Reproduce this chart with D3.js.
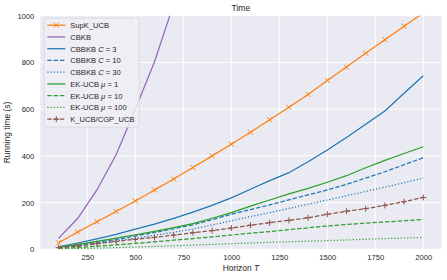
<!DOCTYPE html>
<html>
<head>
<meta charset="utf-8">
<script src="https://cdn.jsdelivr.net/npm/d3@7"></script>
<style>
  body { margin: 0; background: #fff; }
  text { font-family: "Liberation Sans", Arial, sans-serif; fill: #262626; }
</style>
</head>
<body>
<script>
const horizons = [100, 200, 300, 400, 500, 600, 700, 800, 900, 1000,
                  1100, 1200, 1300, 1400, 1500, 1600, 1700, 1800, 1900, 2000];

const supK = [28, 74, 118, 162, 207, 254, 301, 350, 400, 450,
              501, 555, 608, 663, 723, 780, 839, 897, 955, 1012];
const cbkb = [47, 133, 254, 405, 600, 803, 1050];
const cbbkb3 = [10, 27, 45, 64, 86, 108, 132, 159, 188, 220,
                257, 294, 328, 375, 425, 479, 535, 592, 668, 743];
const cbbkb10 = [7, 18, 30, 42, 57, 72, 88, 105, 127, 150,
                 170, 190, 212, 233, 254, 278, 305, 332, 362, 392];
const cbbkb30 = [6, 16, 26, 37, 48, 60, 73, 87, 104, 122,
                 140, 157, 175, 193, 211, 229, 248, 266, 285, 305];
const ek1 = [8, 21, 34, 48, 62, 77, 93, 110, 133, 157,
             185, 211, 237, 261, 287, 315, 349, 381, 410, 439];
const ek10 = [4, 8, 13, 19, 25, 32, 39, 46, 53, 61,
              69, 76, 84, 92, 100, 106, 112, 117, 122, 128];
const ek100 = [1, 3, 5, 7, 10, 12, 15, 18, 21, 24,
               27, 30, 32, 35, 37, 40, 43, 46, 48, 51];
const kucb = [7, 14, 24, 33, 43, 51, 61, 71, 80, 91,
              103, 114, 124, 135, 150, 163, 174, 188, 204, 222];

const xTicks = [250, 500, 750, 1000, 1250, 1500, 1750, 2000];
const yTicks = [0, 200, 400, 600, 800, 1000];

// name pieces: [text, italic?]
let series = [
  {label: [["SupK_UCB", false]], values: supK, color: "#ff7f0e", dash: null, marker: "x"},
  {label: [["CBKB", false]], values: cbkb, color: "#9467bd", dash: null, marker: null},
  {label: [["CBBKB ", false], ["C", true], [" = 3", false]], values: cbbkb3, color: "#1f77b4", dash: null, marker: null},
  {label: [["CBBKB ", false], ["C", true], [" = 10", false]], values: cbbkb10, color: "#1f77b4", dash: "4.4,1.9", marker: null},
  {label: [["CBBKB ", false], ["C", true], [" = 30", false]], values: cbbkb30, color: "#1f77b4", dash: "1.2,2", marker: null},
  {label: [["EK-UCB ", false], ["\u03bc", true], [" = 1", false]], values: ek1, color: "#2ca02c", dash: null, marker: null},
  {label: [["EK-UCB ", false], ["\u03bc", true], [" = 10", false]], values: ek10, color: "#2ca02c", dash: "4.4,1.9", marker: null},
  {label: [["EK-UCB ", false], ["\u03bc", true], [" = 100", false]], values: ek100, color: "#2ca02c", dash: "1.2,2", marker: null},
  {label: [["K_UCB/CGP_UCB", false]], values: kucb, color: "#8c564b", dash: "4.4,1.9", marker: "+"}
];

const markerPath = {
  "x": "M-2.5,-2.5L2.5,2.5M-2.5,2.5L2.5,-2.5",
  "+": "M-3,0L3,0M0,-3L0,3"
};

let WIDTH = 447,
    HEIGHT = 280;

let margin = {top: 15.7, right: 5.5, bottom: 30.7, left: 40.3};
let plotW = WIDTH - margin.left - margin.right,
    plotH = HEIGHT - margin.top - margin.bottom;

let svg = d3.select("body").append("svg")
  .attr("width", WIDTH)
  .attr("height", HEIGHT);

let x = d3.scaleLinear().domain([5, 2095]).range([0, plotW]);
let y = d3.scaleLinear().domain([0, 1000]).range([plotH, 0]);

let g = svg.append("g")
  .attr("transform", "translate(" + margin.left + "," + margin.top + ")");

g.append("rect")
  .attr("width", plotW)
  .attr("height", plotH)
  .attr("fill", "#eaeaf2");

g.append("clipPath").attr("id", "clip")
  .append("rect").attr("width", plotW).attr("height", plotH);

// grid
g.selectAll(".vgrid").data(xTicks).enter().append("line")
  .attr("x1", d => x(d)).attr("x2", d => x(d))
  .attr("y1", 0).attr("y2", plotH)
  .attr("stroke", "#fff").attr("stroke-width", 1);

g.selectAll(".hgrid").data(yTicks).enter().append("line")
  .attr("y1", d => y(d)).attr("y2", d => y(d))
  .attr("x1", 0).attr("x2", plotW)
  .attr("stroke", "#fff").attr("stroke-width", 1);

// axes (labels only, seaborn style)
let xAxis = g.append("g")
  .attr("transform", "translate(0," + plotH + ")")
  .call(d3.axisBottom(x).tickValues(xTicks).tickFormat(d3.format("d")).tickSize(0).tickPadding(5));
let yAxis = g.append("g")
  .call(d3.axisLeft(y).tickValues(yTicks).tickFormat(d3.format("d")).tickSize(0).tickPadding(6));

[xAxis, yAxis].forEach(a => {
  a.select(".domain").remove();
  a.selectAll("text")
    .style("font-family", "'Liberation Sans', Arial, sans-serif")
    .style("font-size", "7.6px")
    .attr("fill", "#262626");
});

// lines
let lineGen = d3.line()
  .x((d, i) => x(horizons[i]))
  .y(d => y(d));

let plot = g.append("g").attr("clip-path", "url(#clip)");

series.forEach(s => {
  plot.append("path")
    .datum(s.values)
    .attr("d", lineGen)
    .attr("fill", "none")
    .attr("stroke", s.color)
    .attr("stroke-width", 1.25)
    .attr("stroke-dasharray", s.dash);

  if (s.marker) {
    plot.selectAll(null)
      .data(s.values)
      .enter().append("path")
      .attr("transform", (d, i) => "translate(" + x(horizons[i]) + "," + y(d) + ")")
      .attr("d", markerPath[s.marker])
      .attr("stroke", s.color)
      .attr("stroke-width", 1)
      .attr("fill", "none");
  }
});

// title and axis labels
svg.append("text")
  .attr("x", margin.left + plotW / 2)
  .attr("y", 11)
  .attr("text-anchor", "middle")
  .style("font-size", "8.6px")
  .text("Time");

let xl = svg.append("text")
  .attr("x", margin.left + plotW / 2)
  .attr("y", 271)
  .attr("text-anchor", "middle")
  .style("font-size", "8.4px");
xl.append("tspan").text("Horizon ");
xl.append("tspan").style("font-style", "italic").text("T");

svg.append("text")
  .attr("transform", "translate(10," + (margin.top + plotH / 2) + ") rotate(-90)")
  .attr("text-anchor", "middle")
  .style("font-size", "8.4px")
  .text("Running time (s)");

// legend
let legend = g.append("g").attr("transform", "translate(4,2.5)");

legend.append("rect")
  .attr("width", 95)
  .attr("height", 109)
  .attr("rx", 2)
  .attr("fill", "#eeeef4")
  .attr("fill-opacity", 0.85)
  .attr("stroke", "#d5d5dd")
  .attr("stroke-width", 0.8);

let rowH = 11.75;
series.forEach((s, i) => {
  let ry = 7 + i * rowH;
  let row = legend.append("g").attr("transform", "translate(0," + ry + ")");
  row.append("line")
    .attr("x1", 3).attr("x2", 21)
    .attr("y1", 0).attr("y2", 0)
    .attr("stroke", s.color)
    .attr("stroke-width", 1.25)
    .attr("stroke-dasharray", s.dash);
  if (s.marker) {
    row.append("path")
      .attr("transform", "translate(12,0)")
      .attr("d", markerPath[s.marker])
      .attr("stroke", s.color)
      .attr("stroke-width", 1);
  }
  let t = row.append("text")
    .attr("x", 26)
    .attr("y", 2.8)
    .style("font-size", "7.6px");
  s.label.forEach(p => {
    t.append("tspan").style("font-style", p[1] ? "italic" : "normal").text(p[0]);
  });
});
</script>
</body>
</html>
